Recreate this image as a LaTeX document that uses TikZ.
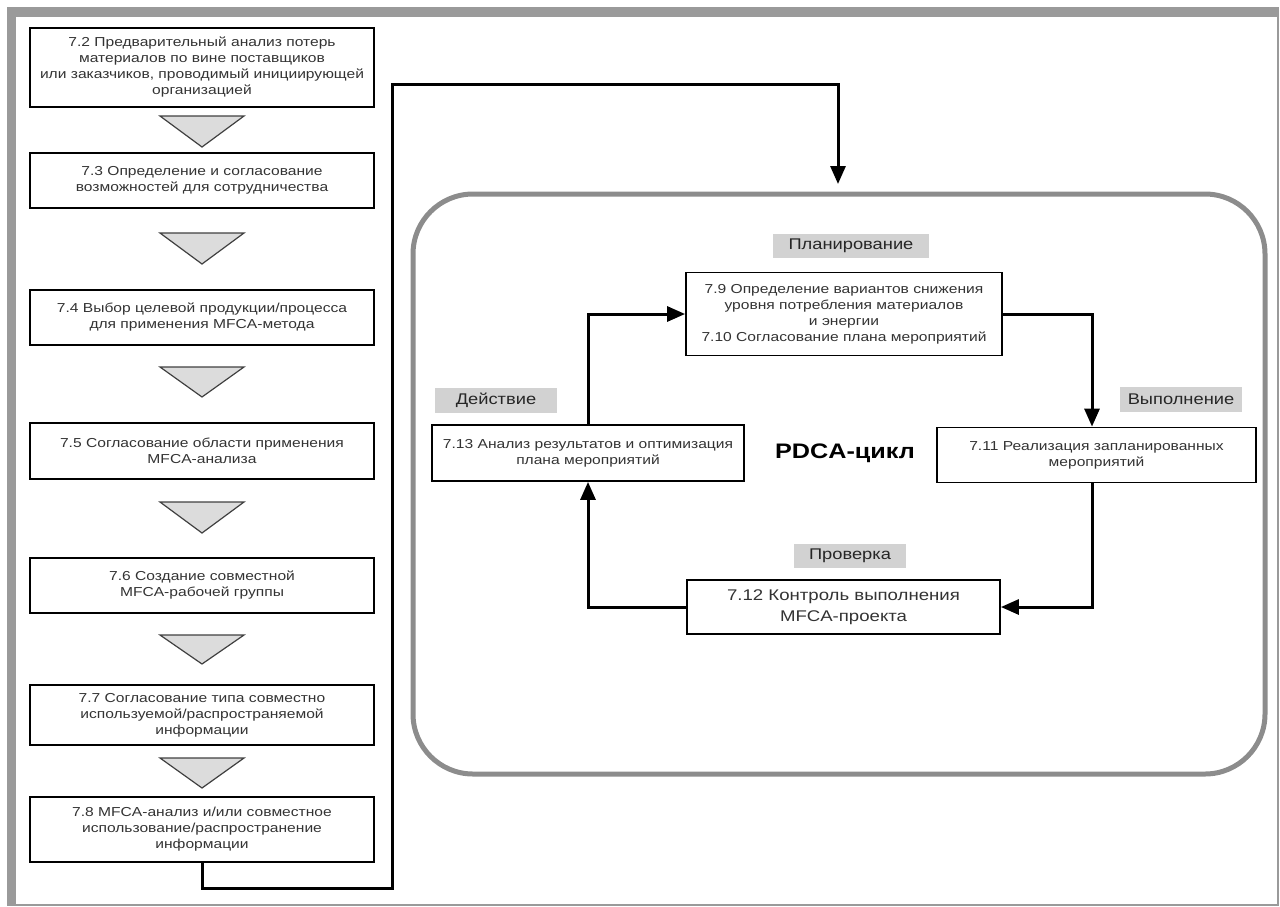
\documentclass[tikz,border=0pt]{standalone}
\usepackage{fontspec}
\setmainfont{Liberation Sans}[FakeStretch=1.2]
\newfontfamily\labfont{Liberation Sans}[FakeStretch=1.18]
\usetikzlibrary{arrows.meta}
\definecolor{framegray}{HTML}{9A9A9A}
\definecolor{cyclegray}{HTML}{8C8C8C}
\definecolor{labgray}{HTML}{D2D2D2}
\definecolor{trigray}{HTML}{DCDCDC}
\definecolor{txt}{HTML}{333333}
\begin{document}
\begin{tikzpicture}[x=1pt,y=-1pt,
 box/.style={draw=black, line width=1.8pt, fill=white, align=center, inner sep=0pt,
   font=\fontsize{13}{16}\selectfont, text=txt},
 tri/.style={draw=black!75, line width=1.2pt, fill=trigray, line join=miter},
 lab/.style={fill=labgray, inner sep=0pt, font=\labfont\fontsize{15.5}{16}\selectfont, text=black!85},
 conn/.style={line width=3pt, -{Triangle[length=18pt,width=15pt]}},
]
\useasboundingbox (0,0) rectangle (1280,906);
% frame
\fill[framegray] (7,7) rectangle (1279,17);
\fill[framegray] (7,7) rectangle (16,906);
\draw[framegray, line width=2pt] (1278,17) -- (1278,905) -- (16,905);

% left column
\node[box, minimum width=344pt, minimum height=79pt] (b72) at (202,67.5)
 {7.2 Предварительный анализ потерь\\материалов по вине поставщиков\\или заказчиков, проводимый инициирующей\\организацией};
\node[box, minimum width=344pt, minimum height=55pt] (b73) at (202,180.5)
 {7.3 Определение и согласование\\возможностей для сотрудничества};
\node[box, minimum width=344pt, minimum height=55pt] (b74) at (202,317.5)
 {7.4 Выбор целевой продукции/процесса\\для применения MFCA-метода};
\node[box, minimum width=344pt, minimum height=56pt] (b75) at (202,451)
 {7.5 Согласование области применения\\MFCA-анализа};
\node[box, minimum width=344pt, minimum height=55pt] (b76) at (202,585.5)
 {7.6 Создание совместной\\MFCA-рабочей группы};
\node[box, minimum width=344pt, minimum height=60pt] (b77) at (202,715)
 {7.7 Согласование типа совместно\\используемой/распространяемой\\информации};
\node[box, minimum width=344pt, minimum height=65pt] (b78) at (202,829.5)
 {7.8 MFCA-анализ и/или совместное\\использование/распространение\\информации};

% triangles
\foreach \t/\a in {116/147, 233/264, 367/397, 502/533, 635/664, 758/788}
  \draw[tri] (160,\t) -- (244,\t) -- (202,\a) -- cycle;

% PDCA cycle frame
\node[draw=cyclegray, line width=5pt, rounded corners=60pt, minimum width=852pt,
  minimum height=580pt, inner sep=0pt] (cycle) at (839,484) {};

\coordinate (d1) at (202,888);
\coordinate (d2) at (392,888);
\coordinate (d3) at (392,84);
\coordinate (d4) at (838,84);
\coordinate (d5) at (838,184);
\draw[conn] (b78.south) -- (d1) -- (d2) -- (d3) -- (d4) -- (d5);

% labels
\node[lab, minimum width=156pt, minimum height=24pt] (lplan) at (851,246) {Планирование};
\node[lab, minimum width=122pt, minimum height=25pt] (lact) at (496,400) {Действие};
\node[lab, minimum width=122pt, minimum height=25pt] (ldo) at (1181,399) {Выполнение};
\node[lab, minimum width=112pt, minimum height=24pt] (lcheck) at (850,556) {Проверка};

% cycle boxes
\node[box, minimum width=316pt, minimum height=83pt] (b79) at (844,314)
 {7.9 Определение вариантов снижения\\уровня потребления материалов\\и энергии\\7.10 Согласование плана мероприятий};
\node[box, minimum width=319pt, minimum height=55pt] (b711) at (1096.5,455)
 {7.11 Реализация запланированных\\мероприятий};
\node[box, minimum width=313pt, minimum height=54pt, font=\fontsize{15.5}{21}\selectfont] (b712) at (843.5,607)
 {7.12 Контроль выполнения\\MFCA-проекта};
\node[box, minimum width=312pt, minimum height=56pt] (b713) at (588,453)
 {7.13 Анализ результатов и оптимизация\\плана мероприятий};

\node[font=\fontsize{21}{24}\selectfont\bfseries, inner sep=0pt] (pdca) at (845,453) {PDCA-цикл};

% cycle connectors
\draw[conn] (b713.north) |- (b79.west);
\draw[conn] (b79.east) -| (b711.north -| 1092,0);
\draw[conn] (b711.south -| 1092,0) |- (b712.east);
\draw[conn] (b712.west) -| (b713.south);
\end{tikzpicture}
\end{document}
